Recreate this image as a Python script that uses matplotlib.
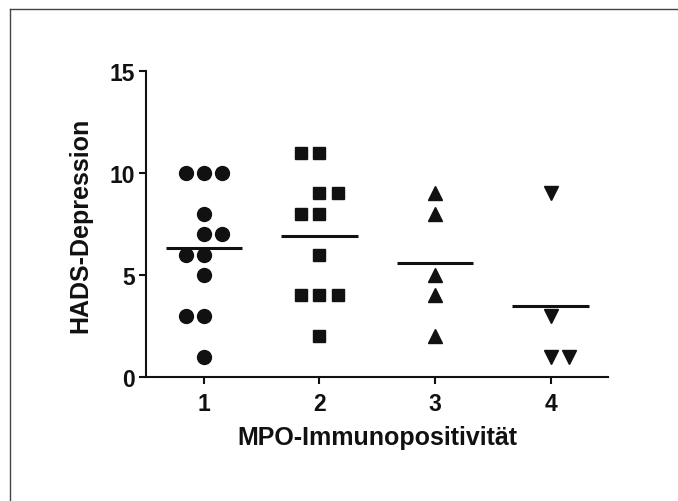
import matplotlib.pyplot as plt
import numpy as np

plt.rcParams['font.family'] = ['Liberation Sans', 'DejaVu Sans']
plt.rcParams['font.weight'] = 'bold'

groups = [1, 2, 3, 4]
# values per group, with horizontal slot (-1, 0, +1) for points that sit side by side
g1_vals = [10, 10, 10, 8, 7, 7, 6, 6, 5, 3, 3, 1]
g1_slot = [-1, 0, 1, 0, 0, 1, -1, 0, 0, -1, 0, 0]
g2_vals = [11, 11, 9, 9, 8, 8, 6, 4, 4, 4, 2]
g2_slot = [-1, 0, 0, 1, -1, 0, 0, -1, 0, 1, 0]
g3_vals = [9, 8, 5, 4, 2]
g3_slot = [0, 0, 0, 0, 0]
g4_vals = [9, 3, 1, 1]
g4_slot = [0, 0, 0, 1]

data = [(g1_vals, g1_slot, 'o'), (g2_vals, g2_slot, 's'),
        (g3_vals, g3_slot, '^'), (g4_vals, g4_slot, 'v')]

fig = plt.figure(figsize=(6.78, 5.02), dpi=100)
ax = fig.add_axes([0.2153, 0.247, 0.682, 0.6096])

step = 0.158
for g, (vals, slot, mk) in zip(groups, data):
    x = g + step * np.array(slot)
    ax.plot(x, vals, linestyle='none', marker=mk, color='#111111',
            markersize=10 if mk in 'o^v' else 9.3)
    m = np.mean(vals)
    ax.plot([g - 0.33, g + 0.33], [m, m], color='#111111', lw=2.2,
            solid_capstyle='butt')

ax.set_xlim(0.5, 4.5)
ax.set_ylim(0, 15)
ax.set_xticks(groups)
ax.set_yticks([0, 5, 10, 15])
ax.spines['top'].set_visible(False)
ax.spines['right'].set_visible(False)
for s in ['left', 'bottom']:
    ax.spines[s].set_linewidth(1.5)
    ax.spines[s].set_color('#111111')
ax.tick_params(direction='out', length=5, width=1.5, colors='#111111',
               labelsize=16.5, pad=3)
ax.tick_params(axis='x', pad=6)
for lab in ax.get_xticklabels() + ax.get_yticklabels():
    lab.set_fontweight('bold')
ax.set_xlabel('MPO-Immunopositivität', fontsize=18, fontweight='bold',
              labelpad=7, color='#111111')
ax.set_ylabel('HADS-Depression', fontsize=18, fontweight='bold',
              labelpad=12, color='#111111')

# partial frame around the figure (top and left edges)
fig.add_artist(plt.Line2D([9.5 / 678, 1], [1 - 9.5 / 502, 1 - 9.5 / 502],
                          transform=fig.transFigure, color='#444444', lw=1))
fig.add_artist(plt.Line2D([9.5 / 678, 9.5 / 678], [0, 1 - 9.5 / 502],
                          transform=fig.transFigure, color='#444444', lw=1))

fig.savefig('out.png', dpi=100)
